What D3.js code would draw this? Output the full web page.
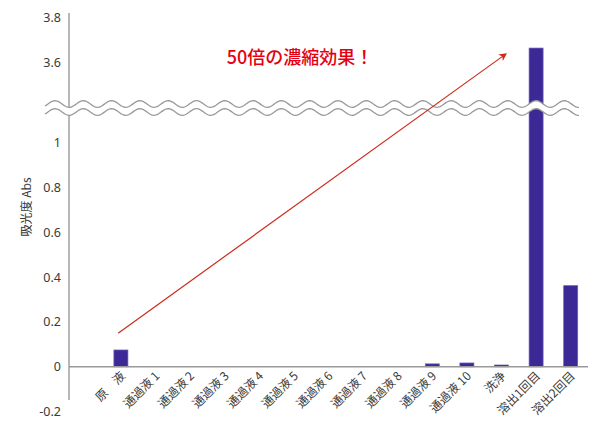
<!DOCTYPE html>
<html><head><meta charset="utf-8">
<script src="https://cdn.jsdelivr.net/npm/d3@7"></script>
<style>
html,body{margin:0;padding:0;background:#fff;}
svg{display:block;}
text{font-family:"Noto Sans","Noto Sans CJK JP",sans-serif;}
</style></head>
<body>
<svg id="chart" width="600" height="427"></svg>
<script>
// ---- data ----
const categories = ["原　液","通過液 1","通過液 2","通過液 3","通過液 4","通過液 5","通過液 6","通過液 7","通過液 8","通過液 9","通過液 10","洗浄","溶出1回目","溶出2回目"];
const values = [0.075,0,0,0,0,0,0,0,0,0.013,0.017,0.008,3.662,0.362];
const lowerTicks = [-0.2,0,0.2,0.4,0.6,0.8,1];
const upperTicks = [3.6,3.8];
const yTitle = "吸光度 Abs";
const annotation = "50倍の濃縮効果！";
const arrowFrom = {index:-0.08, value:0.15};
const arrowTo = {index:11.12, value:3.635};

// ---- layout ----
const svg = d3.select("#chart");
const axisX = 69, rightX = 588, breakY = 108;
const x = d3.scaleBand().domain(categories).range([103.6, rightX]).paddingInner(0.595).paddingOuter(0.2975);
const yLow = d3.scaleLinear().domain([-0.2, 1]).range([411.6, 142.7]);
const yHigh = d3.scaleLinear().domain([3.6, 3.8]).range([62, 17]);
const yAny = v => v > 2 ? yHigh(v) : yLow(v);
const fmt = d => String(+d.toFixed(1));

// bars
svg.append("g").selectAll("rect").data(categories).join("rect")
  .attr("x", (c) => x(c))
  .attr("width", x.bandwidth())
  .attr("y", (c,i) => yAny(values[i]))
  .attr("height", (c,i) => Math.max(0, yLow(0) - yAny(values[i])))
  .attr("fill", "#3d2996")
  .attr("stroke", "#6b5cbc").attr("stroke-width", 0.7)
  .attr("display", (c,i) => values[i] > 0 ? null : "none");

// x axis line
svg.append("line").attr("x1", axisX).attr("x2", rightX)
  .attr("y1", yLow(0)).attr("y2", yLow(0))
  .attr("stroke", "#999").attr("stroke-width", 1.4);

// y axis line
svg.append("line").attr("x1", axisX).attr("x2", axisX)
  .attr("y1", 13).attr("y2", 400)
  .attr("stroke", "#999").attr("stroke-width", 1.4);

// y tick labels via axes
const gLow = svg.append("g").attr("transform", `translate(${axisX},0)`)
  .call(d3.axisLeft(yLow).tickValues(lowerTicks).tickFormat(fmt).tickSize(0).tickPadding(8));
const gHigh = svg.append("g").attr("transform", `translate(${axisX},0)`)
  .call(d3.axisLeft(yHigh).tickValues(upperTicks).tickFormat(fmt).tickSize(0).tickPadding(8));
[gLow, gHigh].forEach(g => {
  g.select(".domain").remove();
  g.selectAll("text").attr("fill", "#3a3a3a").style("font-size", "12.5px").style("font-family", '"Noto Sans",sans-serif');
});

// x labels
const xAxis = svg.append("g").attr("transform", `translate(0,${yLow(0)})`)
  .call(d3.axisBottom(x).tickSize(0).tickPadding(0));
xAxis.select(".domain").remove();
xAxis.selectAll("text")
  .attr("fill", "#3a3a3a")
  .style("font-size", "12px")
  .style("font-family", '"Noto Sans CJK JP","Noto Sans",sans-serif')
  .attr("text-anchor", "end")
  .attr("dy", "0.35em")
  .attr("transform", "translate(2,7) rotate(-45)")
  .attr("y", 0).attr("x", 0);

// y title
svg.append("text").attr("transform", "translate(31,207) rotate(-90)")
  .attr("text-anchor", "middle").attr("fill", "#3a3a3a")
  .style("font-size", "12px").style("font-family", '"Noto Sans CJK JP",sans-serif')
  .text(yTitle);

// break band
const waveX0 = 45, waveX1 = 579, period = 28.3, amp = 3.3, crestX = 83.3;
const wave = base => d3.range(waveX0, waveX1 + 0.5, 1).map(px => [px, base - amp * Math.cos(2 * Math.PI * (px - crestX) / period)]);
const waveTop = wave(breakY - 4), waveBot = wave(breakY + 4);
svg.append("path").attr("d", d3.line()(waveTop.concat(waveBot.slice().reverse())) + "Z").attr("fill", "#fff");
[waveTop, waveBot].forEach(p => svg.append("path").attr("d", d3.line()(p)).attr("fill", "none")
  .attr("stroke", "#999").attr("stroke-width", 1.3));

// arrow
const step = x.step();
const xAt = idx => x(categories[0]) + x.bandwidth() / 2 + idx * step;
svg.append("defs").append("marker").attr("id", "ah")
  .attr("viewBox", "0 0 10 10").attr("refX", 8).attr("refY", 5)
  .attr("markerWidth", 8).attr("markerHeight", 8).attr("markerUnits", "userSpaceOnUse")
  .attr("orient", "auto")
  .append("path").attr("d", "M0,0 L10,5 L0,10 L3,5 Z").attr("fill", "#cc2a1c");
svg.append("line")
  .attr("x1", xAt(arrowFrom.index)).attr("y1", yAny(arrowFrom.value))
  .attr("x2", xAt(arrowTo.index)).attr("y2", yAny(arrowTo.value))
  .attr("stroke", "#cc2a1c").attr("stroke-width", 1.2).attr("marker-end", "url(#ah)");

// annotation text
svg.append("text").attr("x", 300).attr("y", 64).attr("text-anchor", "middle")
  .attr("fill", "#e60012").style("font-size", "18px").style("font-weight", "500")
  .style("font-family", '"Noto Sans CJK JP",sans-serif')
  .text(annotation);
</script>
</body></html>
